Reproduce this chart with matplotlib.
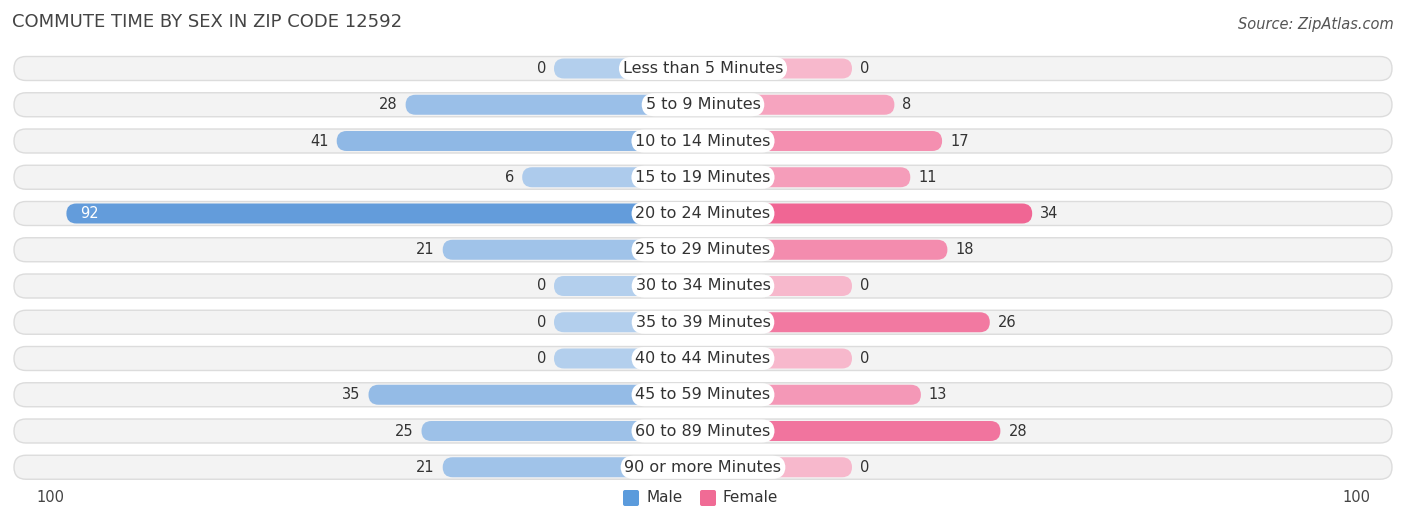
import matplotlib.pyplot as plt
from matplotlib.patches import FancyBboxPatch
import numpy as np

categories = ["Less than 5 Minutes", "5 to 9 Minutes", "10 to 14 Minutes", "15 to 19 Minutes",
              "20 to 24 Minutes", "25 to 29 Minutes", "30 to 34 Minutes", "35 to 39 Minutes",
              "40 to 44 Minutes", "45 to 59 Minutes", "60 to 89 Minutes", "90 or more Minutes"]
male = [0, 28, 41, 6, 92, 21, 0, 0, 0, 35, 25, 21]
female = [0, 8, 17, 11, 34, 18, 0, 26, 0, 13, 28, 0]

W, H = 1406, 523
cx = 703
base = 149      # stub width under the label (px)
scale = 5.3     # px per unit

fig = plt.figure(figsize=(W / 100, H / 100), dpi=100)
ax = fig.add_axes([0, 0, 1, 1])
ax.set_xlim(0, W)
ax.set_ylim(H, 0)
ax.axis("off")

def mix(c1, c2, t):
    c1 = np.array(c1); c2 = np.array(c2)
    return tuple(c1 + (c2 - c1) * t)

m_light, m_dark = (0.70, 0.81, 0.93), (0.39, 0.61, 0.86)
f_light, f_dark = (0.97, 0.72, 0.80), (0.94, 0.40, 0.58)
mmax, fmax = max(male), max(female)

y0, dy = 68.5, 36.25
for i, (cat, m, f) in enumerate(zip(categories, male, female)):
    y = y0 + i * dy
    ax.add_patch(FancyBboxPatch((14, y - 12), W - 28 - 0, 24,
                 boxstyle="round,pad=0,rounding_size=12", fc="#f3f3f3", ec="#dcdcdc", lw=1))
    mw = base + scale * m
    fw = base + scale * f
    ax.add_patch(FancyBboxPatch((cx - mw, y - 10), mw, 20, boxstyle="round,pad=0,rounding_size=10",
                 fc=mix(m_light, m_dark, m / mmax), ec="none"))
    ax.add_patch(FancyBboxPatch((cx, y - 10), fw, 20, boxstyle="round,pad=0,rounding_size=10",
                 fc=mix(f_light, f_dark, f / fmax), ec="none"))
    ax.text(cx, y, cat, ha="center", va="center", fontsize=11.5, color="#333333",
            bbox=dict(boxstyle="round,pad=0.25,rounding_size=0.8", fc="white", ec="none"))
    if m > 80:
        ax.text(cx - mw + 14, y, str(m), ha="left", va="center", fontsize=10.5, color="white")
    else:
        ax.text(cx - mw - 8, y, str(m), ha="right", va="center", fontsize=10.5, color="#333333")
    ax.text(cx + fw + 8, y, str(f), ha="left", va="center", fontsize=10.5, color="#333333")

ax.text(12, 22, "COMMUTE TIME BY SEX IN ZIP CODE 12592", fontsize=13, color="#444444", va="center")
ax.text(1394, 24, "Source: ZipAtlas.com", fontsize=10.5, color="#555555", ha="right", va="center",
        style="italic")
ax.text(50, 498, "100", fontsize=10.5, color="#444444", ha="center", va="center")
ax.text(1356, 498, "100", fontsize=10.5, color="#444444", ha="center", va="center")
ax.add_patch(FancyBboxPatch((623, 490), 16, 16, boxstyle="round,pad=0,rounding_size=2", fc="#5b9bdc", ec="none"))
ax.text(646, 498, "Male", fontsize=11, color="#333333", va="center")
ax.add_patch(FancyBboxPatch((700, 490), 16, 16, boxstyle="round,pad=0,rounding_size=2", fc="#f06b95", ec="none"))
ax.text(723, 498, "Female", fontsize=11, color="#333333", va="center")

fig.savefig("out.png", dpi=100)
